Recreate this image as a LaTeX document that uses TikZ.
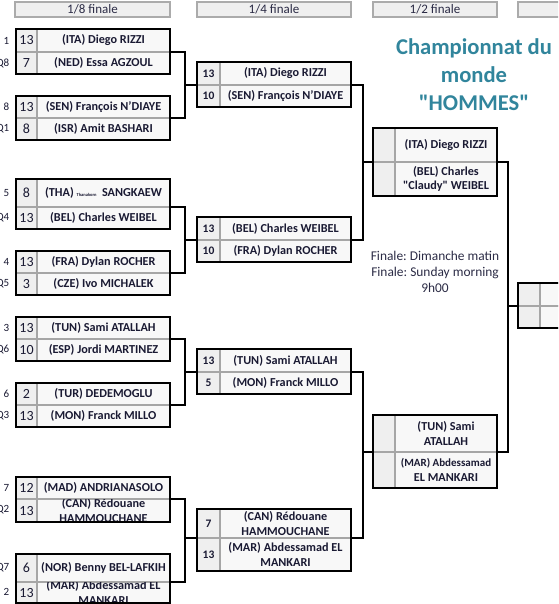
\documentclass[tikz,border=0pt]{standalone}
\usepackage{fontspec}
\setmainfont{Carlito}[Ligatures=TeXOff]
\frenchspacing
\definecolor{namecol}{HTML}{1A1A33}
\definecolor{gridgray}{HTML}{A6A6A6}
\definecolor{scorefill}{HTML}{EFEFEF}
\definecolor{namefill}{HTML}{F8F8F8}
\definecolor{hdrfill}{HTML}{EFEFEF}
\definecolor{hdrgray}{HTML}{ABABAB}
\definecolor{titlecol}{HTML}{31859C}
\definecolor{infocol}{HTML}{2B2B45}
% name, x-left, x-score-divider, x-right, y-top, y-bottom, score, name text
\newcommand\mrow[8]{%
  \node[scorecell, minimum width={#3-#2}, minimum height={#6-#5}] (#1s) at (#2,#5) {#7};
  \node[namecell, minimum width={#4-#3}, minimum height={#6-#5}] (#1) at (#3,#5) {};
  \begin{scope}
    \clip (#1.north west) rectangle (#1.south east);
    \node[nametext] (#1t) at (#1.center) {#8};
  \end{scope}
}
\begin{document}
\begin{tikzpicture}[x=1pt,y=-1pt,
  cellbase/.style={draw=gridgray, line width=1.5pt, anchor=north west, inner sep=0pt, outer sep=0pt},
  scoretxt/.style={font=\fontsize{14}{15}\selectfont, text=namecol},
  scorecell/.style={cellbase, fill=scorefill, scoretxt},
  namecell/.style={cellbase, fill=namefill},
  nametext/.style={font=\fontsize{12.2}{14.6}\selectfont\bfseries, text=namecol, align=center, inner sep=0pt},
  outerbox/.style={draw=black, line width=2.6pt},
  conn/.style={draw=black, line width=2.6pt},
  header/.style={draw=hdrgray, fill=hdrfill, line width=1.6pt, anchor=north west, inner sep=0pt, outer sep=0pt, font=\fontsize{13}{15}\selectfont, text=infocol},
  seedlbl/.style={anchor=east, font=\fontsize{11}{12}\selectfont, text=namecol, inner sep=0pt},
]
\useasboundingbox (0,0) rectangle (558,604);
\clip (0,0) rectangle (558,604);

% headers
\node[header, minimum width=155, minimum height=15] (h1) at (15,2) {1/8 finale};
\node[header, minimum width=154, minimum height=15] (h2) at (197,2) {1/4 finale};
\node[header, minimum width=124, minimum height=15] (h3) at (373,2) {1/2 finale};
\node[header, minimum width=80, minimum height=15] (h4) at (518,2) {};

% title and info
\node[font=\fontsize{22.6}{28}\selectfont\bfseries, text=titlecol, align=center] (title) at (474,75) {Championnat du\\monde\\"HOMMES"};
\node[font=\fontsize{13.4}{16}\selectfont, text=infocol, align=center] (info) at (435,272) {Finale: Dimanche matin\\Finale: Sunday morning\\9h00};

% seed labels
\foreach \t/\y [count=\i] in {1/40.5, Q8/63, 8/107, Q1/129, 5/193, Q4/218, 4/262, Q5/284, 3/328, Q6/350, 6/394, Q3/416, 7/488, Q2/510, Q7/568, 2/592}
  \node[seedlbl] (seed\i) at (9.5,\y) {\t};

% connector junctions
\coordinate (j1) at (185,85);
\coordinate (j2) at (185,240);
\coordinate (j3) at (185,372);
\coordinate (j4) at (185,538);
\coordinate (k1) at (363,162);
\coordinate (k2) at (363,452);
\coordinate (l1) at (508,306);

% round 1 (1/8)
\mrow{p1a}{16}{37}{170}{29}{52}{13}{(ITA) Diego RIZZI}
\mrow{p1b}{16}{37}{170}{52}{74}{7}{(NED) Essa AGZOUL}
\mrow{p2a}{16}{37}{170}{96}{118}{13}{(SEN) François N’DIAYE}
\mrow{p2b}{16}{37}{170}{118}{140}{8}{(ISR) Amit BASHARI}
\mrow{p3a}{16}{37}{170}{179}{207}{8}{(THA) {\fontsize{4.5}{5}\selectfont Thanakorn}\ \ SANGKAEW}
\mrow{p3b}{16}{37}{170}{207}{229}{13}{(BEL) Charles WEIBEL}
\mrow{p4a}{16}{37}{170}{251}{273}{13}{(FRA) Dylan ROCHER}
\mrow{p4b}{16}{37}{170}{273}{295}{3}{(CZE) Ivo MICHALEK}
\mrow{p5a}{16}{37}{170}{317}{339}{13}{(TUN) Sami ATALLAH}
\mrow{p5b}{16}{37}{170}{339}{361}{10}{(ESP) Jordi MARTINEZ}
\mrow{p6a}{16}{37}{170}{383}{405}{2}{(TUR) DEDEMOGLU}
\mrow{p6b}{16}{37}{170}{405}{427}{13}{(MON) Franck MILLO}
\mrow{p7a}{16}{37}{170}{477}{499}{12}{(MAD) ANDRIANASOLO}
\mrow{p7b}{16}{37}{170}{499}{522}{13}{(CAN) Rédouane\\HAMMOUCHANE}
\mrow{p8a}{16}{37}{170}{554}{582}{6}{(NOR) Benny BEL-LAFKIH}
\mrow{p8b}{16}{37}{170}{582}{603}{13}{(MAR) Abdessamad EL\\MANKARI}

% round 2 (1/4)
\begin{scope}[scoretxt/.style={font=\fontsize{11.5}{13}\selectfont\bfseries, text=namecol}]
\mrow{q1a}{197}{220}{351}{62}{85}{13}{(ITA) Diego RIZZI}
\mrow{q1b}{197}{220}{351}{85}{107}{10}{(SEN) François N’DIAYE}
\mrow{q2a}{197}{220}{351}{217}{240}{13}{(BEL) Charles WEIBEL}
\mrow{q2b}{197}{220}{351}{240}{262}{10}{(FRA) Dylan ROCHER}
\mrow{q3a}{197}{220}{351}{349}{372}{13}{(TUN) Sami ATALLAH}
\mrow{q3b}{197}{220}{351}{372}{394}{5}{(MON) Franck MILLO}
\mrow{q4a}{197}{220}{351}{509}{538}{7}{(CAN) Rédouane\\HAMMOUCHANE}
\mrow{q4b}{197}{220}{351}{538}{571}{13}{(MAR) Abdessamad EL\\MANKARI}
\end{scope}

% round 3 (1/2)
\mrow{s1a}{373}{395}{497}{128}{162}{}{(ITA) Diego RIZZI}
\mrow{s1b}{373}{395}{497}{162}{196}{}{(BEL) Charles\\"Claudy" WEIBEL}
\mrow{s2a}{373}{395}{497}{415}{452}{}{(TUN) Sami\\ATALLAH}
\mrow{s2b}{373}{395}{497}{452}{488}{}{\fontsize{11}{12.5}\selectfont (MAR) Abdessamad\\EL MANKARI}

% final
\mrow{fa}{518}{540}{575}{283}{306}{}{}
\mrow{fb}{518}{540}{575}{306}{328}{}{}

% connector lines
\draw[conn] (p1a.south east) -| (j1) |- (p2a.south east);
\draw[conn] (j1) -- (q1as.south west);
\draw[conn] (p3a.south east) -| (j2) |- (p4a.south east);
\draw[conn] (j2) -- (q2as.south west);
\draw[conn] (p5a.south east) -| (j3) |- (p6a.south east);
\draw[conn] (j3) -- (q3as.south west);
\draw[conn] (p7a.south east) -| (j4) |- (p8a.south east);
\draw[conn] (j4) -- (q4as.south west);
\draw[conn] (q1a.south east) -| (k1) |- (q2a.south east);
\draw[conn] (k1) -- (s1as.south west);
\draw[conn] (q3a.south east) -| (k2) |- (q4a.south east);
\draw[conn] (k2) -- (s2as.south west);
\draw[conn] (s1a.south east) -| (l1) |- (s2a.south east);
\draw[conn] (l1) -- (fas.south west);

% outer boxes
\foreach \m in {p1,p2,p3,p4,p5,p6,p7,p8,q1,q2,q3,q4,s1,s2,f}
  \draw[outerbox] (\m as.north west) rectangle (\m b.south east);
\end{tikzpicture}
\end{document}
